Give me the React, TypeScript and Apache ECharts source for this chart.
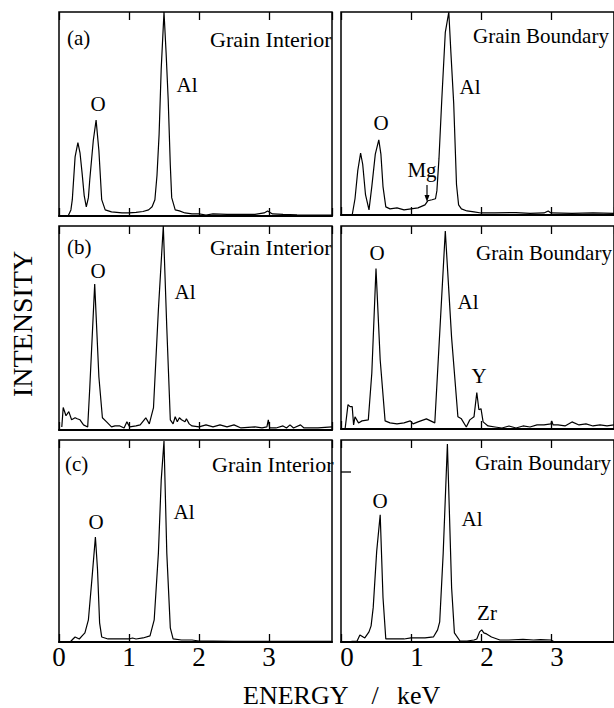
import React, { useEffect, useRef } from "react";
import * as echarts from "echarts";

// Energy (keV) vs relative intensity (% of panel height)
const aInterior: number[][] = [
  [0.13, 0], [0.17, 3], [0.19, 8], [0.23, 29], [0.27, 36], [0.30, 31], [0.33, 21], [0.36, 10], [0.39, 4.5],
  [0.42, 9], [0.44, 18], [0.49, 37], [0.53, 47], [0.57, 32], [0.61, 8], [0.66, 3], [0.75, 2], [0.9, 1.5],
  [1.0, 1.5], [1.1, 1.8], [1.2, 2.2], [1.28, 3], [1.33, 4.5], [1.37, 8], [1.40, 20], [1.43, 40], [1.46, 72],
  [1.50, 100], [1.53, 80], [1.56, 57], [1.59, 25], [1.61, 9], [1.66, 3], [1.72, 2.5], [1.8, 1.5], [1.9, 1],
  [2.0, 1], [2.1, 0.5], [2.2, 1], [2.4, 0.8], [2.6, 0.8], [2.8, 0.8], [2.93, 1.5], [2.98, 2.5], [3.05, 1],
  [3.2, 0.8], [3.4, 0.6], [3.6, 0.5], [3.9, 0.5],
];

const aBoundary: number[][] = [
  [0.16, 0], [0.2, 8], [0.24, 22], [0.28, 30.5], [0.31, 25], [0.35, 10], [0.40, 2.5], [0.44, 14], [0.49, 30],
  [0.54, 37], [0.57, 30], [0.60, 14], [0.64, 4], [0.7, 3], [0.8, 3.5], [0.9, 2.5], [1.0, 3], [1.1, 3.5],
  [1.2, 5], [1.24, 7], [1.3, 7.5], [1.35, 8], [1.37, 12], [1.40, 28], [1.44, 57], [1.49, 90], [1.54, 100],
  [1.57, 80], [1.61, 55], [1.65, 15], [1.68, 5], [1.72, 3], [1.8, 2], [1.9, 1.5], [2.0, 1], [2.2, 1],
  [2.5, 1.2], [2.7, 0.8], [2.9, 1], [2.96, 2], [3.0, 1], [3.3, 0.8], [3.6, 1], [3.9, 0.8],
];

const bInterior: number[][] = [
  [0.04, 1.5], [0.06, 11], [0.1, 7], [0.14, 9], [0.18, 5], [0.23, 6], [0.26, 5.5], [0.30, 5], [0.35, 2.5],
  [0.41, 1.5], [0.44, 21], [0.51, 71.5], [0.57, 26], [0.62, 6], [0.68, 4], [0.75, 1.5], [0.8, 2], [0.87, 2],
  [0.93, 1], [0.97, 4], [1.01, 1.5], [1.1, 2], [1.16, 2.5], [1.24, 6], [1.29, 3], [1.35, 11], [1.42, 59],
  [1.49, 100], [1.54, 50], [1.59, 5], [1.63, 3], [1.66, 6.5], [1.69, 4], [1.72, 6], [1.75, 5], [1.8, 4],
  [1.82, 5.5], [1.86, 3], [1.9, 2], [2.0, 1.5], [2.1, 2.5], [2.2, 1.5], [2.3, 2.5], [2.4, 1.5], [2.5, 2.5],
  [2.6, 1], [2.8, 1.5], [2.9, 1], [2.97, 1.5], [2.99, 5], [3.01, 1], [3.1, 1], [3.2, 2], [3.25, 1],
  [3.3, 2.5], [3.35, 1], [3.45, 2.5], [3.5, 1], [3.7, 1], [3.9, 1.5],
];

const bBoundary: number[][] = [
  [0.06, 0.5], [0.1, 12], [0.13, 11], [0.16, 11], [0.18, 2], [0.2, 6], [0.25, 3], [0.3, 4], [0.39, 4.5],
  [0.44, 27.5], [0.5, 79], [0.56, 34], [0.63, 4], [0.7, 3], [0.8, 2.5], [0.9, 3], [0.99, 4], [1.03, 2.5],
  [1.1, 3.5], [1.22, 5], [1.34, 3], [1.49, 97.5], [1.58, 45], [1.67, 6], [1.72, 5], [1.79, 1], [1.84, 4.5],
  [1.9, 6], [1.94, 18], [1.97, 9.5], [2.0, 10], [2.03, 3.5], [2.1, 1.5], [2.2, 1], [2.3, 0.5], [2.4, 1.5],
  [2.5, 0.5], [2.6, 1.5], [2.7, 1], [2.8, 2], [2.9, 2], [3.0, 2.5], [3.01, 4], [3.03, 2], [3.1, 2],
  [3.2, 1.5], [3.3, 3.5], [3.4, 2], [3.5, 2.5], [3.6, 1.5], [3.7, 2], [3.8, 1.5], [3.9, 2],
];

const cInterior: number[][] = [
  [0.16, 0], [0.2, 1.5], [0.23, 2.5], [0.26, 2], [0.29, 1.5], [0.33, 3], [0.37, 4.5], [0.42, 11], [0.47, 31],
  [0.52, 52], [0.55, 36], [0.58, 9.5], [0.61, 2.5], [0.7, 1.5], [0.8, 1.5], [0.9, 1.5], [1.0, 1.5], [1.05, 2],
  [1.1, 1.5], [1.2, 2], [1.3, 3], [1.36, 11], [1.42, 44], [1.46, 80], [1.5, 99.5], [1.54, 44], [1.59, 7],
  [1.63, 1.5], [1.75, 1], [1.9, 1], [2.0, 0.5], [2.2, 0.5], [2.5, 0.3], [3.0, 0.3], [3.9, 0.3],
];

const cBoundary: number[][] = [
  [0.01, 0], [0.15, 0.3], [0.23, 0.5], [0.27, 3.5], [0.34, 2], [0.4, 5], [0.43, 8], [0.46, 17], [0.51, 45],
  [0.56, 63], [0.6, 22], [0.64, 1.5], [0.7, 1.5], [0.8, 1.5], [0.9, 1.5], [1.0, 2], [1.1, 2], [1.2, 2],
  [1.32, 2.5], [1.38, 6], [1.41, 10], [1.46, 44], [1.52, 98], [1.58, 27], [1.62, 4.5], [1.7, 0.5], [1.8, 0.5],
  [1.9, 1], [1.94, 1.5], [1.98, 5], [2.01, 6], [2.04, 4.5], [2.08, 4], [2.15, 2.5], [2.27, 1], [2.4, 1],
  [2.6, 1.3], [2.75, 1], [2.85, 1.2], [3.0, 1], [3.05, 0], [3.9, 0],
];

const xMin = 0;
const xMax = 3.9;
const xInterval = 1;

const SERIF = "Liberation Serif, Times New Roman, serif";

export default function App() {
  const ref = useRef<HTMLDivElement>(null);

  useEffect(() => {
    document.body.style.margin = "0";
    if (!ref.current) return;
    const chart = echarts.init(ref.current, undefined, { renderer: "svg" });

    const panels = [
      { data: aInterior, left: 59, top: 12, height: 204, labels: false, pad: 0 },
      { data: aBoundary, left: 341, top: 12, height: 203, labels: false, pad: 0 },
      { data: bInterior, left: 59, top: 226, height: 204, labels: false, pad: 0 },
      { data: bBoundary, left: 341, top: 226, height: 203, labels: false, pad: 0 },
      { data: cInterior, left: 59, top: 440, height: 202, labels: true, pad: 0 },
      { data: cBoundary, left: 341, top: 440, height: 202, labels: true, pad: 12 },
    ];

    const grid: any[] = [];
    const xAxis: any[] = [];
    const yAxis: any[] = [];
    const series: any[] = [];

    panels.forEach((p, i) => {
      grid.push({
        left: p.left, top: p.top, width: 273, height: p.height,
        show: true, borderColor: "#000", borderWidth: 1.5, backgroundColor: "transparent",
      });
      const base = {
        type: "value", gridIndex: i, min: xMin, max: xMax, interval: xInterval,
        splitLine: { show: false },
        axisTick: { show: true, inside: true, length: 8, lineStyle: { color: "#000", width: 1.3 } },
      };
      xAxis.push({
        ...base,
        position: "bottom",
        axisLine: { show: true, lineStyle: { color: "#000", width: 2 } },
        axisLabel: p.labels
          ? {
              show: true, color: "#000", fontFamily: SERIF, fontSize: 27, margin: 1,
              showMaxLabel: false,
              formatter: (v: number) => (Number.isInteger(v) ? `{t|${v}}` : ""),
              rich: {
                t: {
                  fontFamily: SERIF, fontSize: 27, color: "#000", lineHeight: 27,
                  padding: [0, 0, 0, p.pad],
                },
              },
            }
          : { show: false },
      });
      xAxis.push({
        ...base,
        position: "top",
        axisLine: { show: false },
        axisLabel: { show: false },
      });
      yAxis.push({ type: "value", gridIndex: i, min: 0, max: 100, show: false });
      series.push({
        type: "line", xAxisIndex: i * 2, yAxisIndex: i, data: p.data,
        showSymbol: false, symbol: "none", smooth: false, clip: true,
        lineStyle: { color: "#000", width: 1.2 },
      });
    });

    const txt = (x: number, y: number, text: string, size = 21, align = "left") => ({
      type: "text", x, y, silent: true,
      style: {
        text, fill: "#000", fontFamily: SERIF, fontSize: size,
        textAlign: align, textVerticalAlign: "middle", align, verticalAlign: "middle",
      },
    });

    const graphic: any[] = [
      // panel (a)
      txt(67, 38, "(a)"), txt(210, 39, "Grain Interior", 22), txt(98, 104, "O", 21, "center"), txt(187, 85, "Al", 21, "center"),
      txt(473, 36, "Grain Boundary"), txt(381, 123, "O", 21, "center"), txt(470, 87, "Al", 21, "center"),
      txt(422, 170, "Mg", 21, "center"),
      // panel (b)
      txt(67, 247, "(b)"), txt(210, 247, "Grain Interior", 22), txt(98, 271, "O", 21, "center"), txt(185, 292, "Al", 21, "center"),
      txt(476, 253, "Grain Boundary"), txt(377, 253, "O", 21, "center"), txt(468, 302, "Al", 21, "center"),
      txt(479, 376, "Y", 21, "center"),
      // panel (c)
      txt(65, 464, "(c)"), txt(212, 464, "Grain Interior", 22), txt(96, 522, "O", 21, "center"), txt(184, 512, "Al", 21, "center"),
      txt(475, 463, "Grain Boundary"), txt(380, 501, "O", 21, "center"), txt(472, 519, "Al", 21, "center"),
      txt(487, 613, "Zr", 21, "center"),
      // Mg arrow
      { type: "line", shape: { x1: 427, y1: 185, x2: 427, y2: 197 }, style: { stroke: "#000", lineWidth: 1.2 } },
      { type: "polygon", shape: { points: [[424.5, 195], [429.5, 195], [427, 202]] }, style: { fill: "#000" } },
      // small mark in (c) boundary panel
      { type: "line", shape: { x1: 341, y1: 472, x2: 351, y2: 472 }, style: { stroke: "#000", lineWidth: 1.3 } },
      // axis titles
      {
        type: "text", x: 22, y: 324, rotation: Math.PI / 2, silent: true,
        style: {
          text: "INTENSITY", fill: "#000", fontFamily: SERIF, fontSize: 28,
          textAlign: "center", textVerticalAlign: "middle", align: "center", verticalAlign: "middle",
        },
      },
      txt(243, 695, "ENERGY", 26, "left"),
      txt(375, 695, "/", 26, "center"),
      txt(397, 695, "keV", 26, "left"),
    ];

    chart.setOption({
      animation: false,
      backgroundColor: "#fff",
      grid, xAxis, yAxis, series, graphic,
    });

    return () => chart.dispose();
  }, []);

  return <div ref={ref} style={{ width: 614, height: 708 }} />;
}
